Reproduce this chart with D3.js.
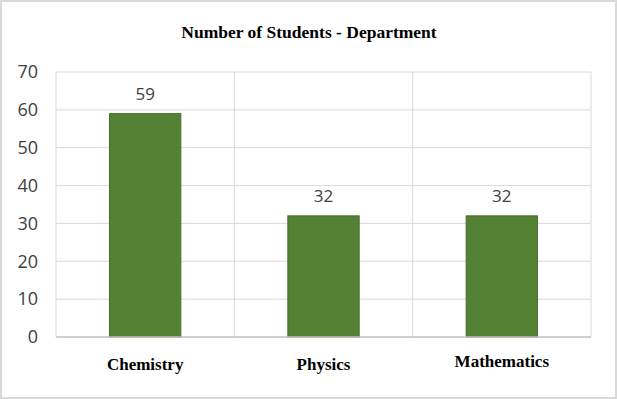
<!DOCTYPE html>
<html lang="en">
<head>
<meta charset="utf-8">
<title>Number of Students - Department</title>
<script src="https://cdn.jsdelivr.net/npm/d3@7/dist/d3.min.js"></script>
<style>
  body { margin: 0; background: #fff; }
  svg { display: block; }
</style>
</head>
<body>
<svg width="617" height="399"></svg>
<script>
// chart data
var departments = ['Chemistry', 'Physics', 'Mathematics'];
var students = [59, 32, 32];
var yTicks = [0, 10, 20, 30, 40, 50, 60, 70];
var chartTitle = 'Number of Students - Department';

var svg = d3.select('svg');
var W = 617, H = 399;
var m = {top: 72, right: 26, bottom: 62, left: 56};

// light outer frame
svg.append('rect')
    .attr('x', 1).attr('y', 1)
    .attr('width', W - 2).attr('height', H - 2)
    .style('fill', 'white')
    .style('stroke', '#d9d9d9')
    .style('stroke-width', 2);

var x = d3.scaleBand()
    .domain(departments)
    .range([m.left, W - m.right])
    .paddingInner(0.6)
    .paddingOuter(0.3);

var y = d3.scaleLinear()
    .domain([0, 70])
    .range([H - m.bottom, m.top]);

// horizontal gridlines
svg.append('g')
    .selectAll('line.h')
    .data(yTicks.slice(1))
    .enter()
    .append('line')
    .attr('class', 'h')
    .attr('x1', m.left).attr('x2', W - m.right)
    .attr('y1', d => y(d)).attr('y2', d => y(d))
    .style('stroke', '#d9d9d9')
    .style('stroke-width', 1);

// vertical separators between categories
var step = x.step();
var edges = [m.left].concat(departments.map(d => x(d) + x.bandwidth() / 2 + step / 2));
svg.append('g')
    .selectAll('line.v')
    .data(edges)
    .enter()
    .append('line')
    .attr('class', 'v')
    .attr('x1', d => d).attr('x2', d => d)
    .attr('y1', y(70)).attr('y2', y(0))
    .style('stroke', '#d9d9d9')
    .style('stroke-width', 1);

// y axis labels
var yAxis = d3.axisLeft(y).tickValues(yTicks).tickSize(0).tickPadding(18);
var ya = svg.append('g')
    .attr('transform', 'translate(' + m.left + ',0)')
    .call(yAxis);
ya.select('.domain').remove();
ya.selectAll('text')
    .style('font-family', '"Open Sans", sans-serif')
    .style('font-size', '18px')
    .style('fill', '#404040');

// bars
svg.selectAll('rect.bar')
    .data(students)
    .enter()
    .append('rect')
    .attr('class', 'bar')
    .attr('x', (d, i) => x(departments[i]))
    .attr('y', d => y(d))
    .attr('width', x.bandwidth())
    .attr('height', d => y(0) - y(d))
    .style('fill', '#548235')
    .style('stroke', '#467029')
    .style('stroke-width', 1);

// bottom axis line
svg.append('line')
    .attr('x1', m.left).attr('x2', W - m.right)
    .attr('y1', y(0)).attr('y2', y(0))
    .style('stroke', '#bfbfbf')
    .style('stroke-width', 1.5);

// value labels
svg.selectAll('text.val')
    .data(students)
    .enter()
    .append('text')
    .attr('class', 'val')
    .attr('x', (d, i) => x(departments[i]) + x.bandwidth() / 2)
    .attr('y', d => y(d) - 14)
    .attr('text-anchor', 'middle')
    .style('font-family', '"Open Sans", sans-serif')
    .style('font-size', '17px')
    .style('fill', '#404040')
    .text(d => d);

// category labels
svg.selectAll('text.cat')
    .data(departments)
    .enter()
    .append('text')
    .attr('class', 'cat')
    .attr('x', d => x(d) + x.bandwidth() / 2)
    .attr('y', (d, i) => i == 2 ? 367 : 370)
    .attr('text-anchor', 'middle')
    .style('font-family', '"Liberation Serif", "Times New Roman", serif')
    .style('font-weight', 'bold')
    .style('font-size', '17px')
    .style('fill', '#000')
    .text(d => d);

// title
svg.append('text')
    .attr('x', 309).attr('y', 38)
    .attr('text-anchor', 'middle')
    .style('font-family', '"Liberation Serif", "Times New Roman", serif')
    .style('font-weight', 'bold')
    .style('font-size', '17.5px')
    .style('fill', '#000')
    .text(chartTitle);
</script>
</body>
</html>
